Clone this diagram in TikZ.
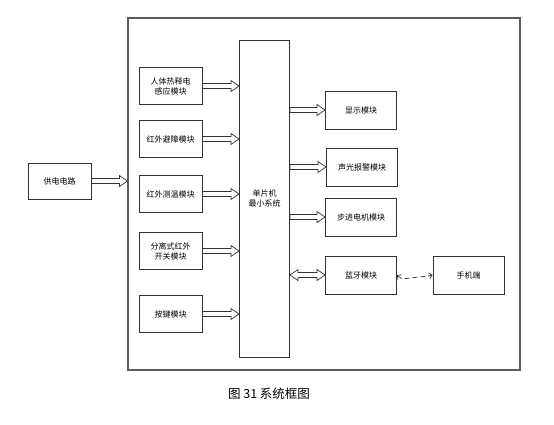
\documentclass[tikz,border=0pt]{standalone}
\usepackage{fontspec}
\newfontfamily\cjk{Noto Sans CJK SC}
\usetikzlibrary{arrows.meta, positioning, calc}
\definecolor{Ink}{HTML}{333333}

\begin{document}
\begin{tikzpicture}[x=1pt, y=-1pt,
      box/.style={draw=Ink, line width=1pt, minimum width=63pt, minimum height=37pt,
                  align=center, font=\cjk\fontsize{8}{10}\selectfont},
      mod/.style={box, minimum width=71pt, minimum height=38pt},
      ar/.style={draw=Ink, line width=0.7pt, fill=white, to path={
        let \p1=(\tikztostart), \p2=(\tikztotarget) in
        (\x1,\y1+2.5pt) -- (\x2-8pt,\y1+2.5pt) -- (\x2-8pt,\y1+5.5pt) -- (\x2,\y1)
        -- (\x2-8pt,\y1-5.5pt) -- (\x2-8pt,\y1-2.5pt) -- (\x1,\y1-2.5pt) -- cycle}},
      ar2/.style={draw=Ink, line width=0.7pt, fill=white, to path={
        let \p1=(\tikztostart), \p2=(\tikztotarget) in
        (\x1,\y1) -- (\x1+8pt,\y1+5.5pt) -- (\x1+8pt,\y1+2.5pt) -- (\x2-8pt,\y1+2.5pt)
        -- (\x2-8pt,\y1+5.5pt) -- (\x2,\y1) -- (\x2-8pt,\y1-5.5pt) -- (\x2-8pt,\y1-2.5pt)
        -- (\x1+8pt,\y1-2.5pt) -- (\x1+8pt,\y1-5.5pt) -- cycle}},
      wl/.style={draw=Ink, line width=0.7pt, dash pattern=on 5pt off 3pt,
                 {Straight Barb[length=3pt, width=6pt]}-{Straight Barb[length=3pt, width=6pt]}}]

    \useasboundingbox (0,0) rectangle (554,424);

    % outer frame and MCU
    \node[draw=Ink!80, line width=1.2pt, minimum width=392pt, minimum height=352pt] (sys) at (324,194) {};
    \node[box, minimum width=50pt, minimum height=317pt] (mcu) at (264.5,198.5) {单片机\\最小系统};

    % power supply
    \node[box, minimum height=36pt] (pwr) at (59.5,181) {供电电路};

    % inputs
    \node[box] (pir) at (170.5,86) {人体热释电\\感应模块};
    \node[box] (avoid) at (170.5,139) {红外避障模块};
    \node[box] (temp) at (170.5,194) {红外测温模块};
    \node[box] (sw) at (170.5,251) {分离式红外\\开关模块};
    \node[box] (key) at (170.5,314) {按键模块};

    % outputs
    \node[mod] (disp) at (361,110) {显示模块};
    \node[mod] (alarm) at (362,167) {声光报警模块};
    \node[mod] (motor) at (361,217) {步进电机模块};
    \node[mod] (bt) at (361,275) {蓝牙模块};
    \node[mod] (phone) at (468.5,275) {手机端};

    \path[ar] (pwr.east) to (pwr.east -| sys.west);
    \foreach \m in {pir, avoid, temp, sw, key}
      \path[ar] (\m.east) to (\m.east -| mcu.west);
    \foreach \m in {disp, alarm, motor}
      \path[ar] (\m.west -| mcu.east) to (\m.west);
    \path[ar2] (bt.west -| mcu.east) to (bt.west);

    % wireless link
    \coordinate (w1) at (402,279);
    \coordinate (w2) at (428,276);
    \draw[wl] (bt.east) -- (w1) -- (w2) -- (phone.west);

    \node[font=\cjk\fontsize{12.5}{14}\selectfont] (cap) at (269,394) {图 31 系统框图};
  \end{tikzpicture}
\end{document}
